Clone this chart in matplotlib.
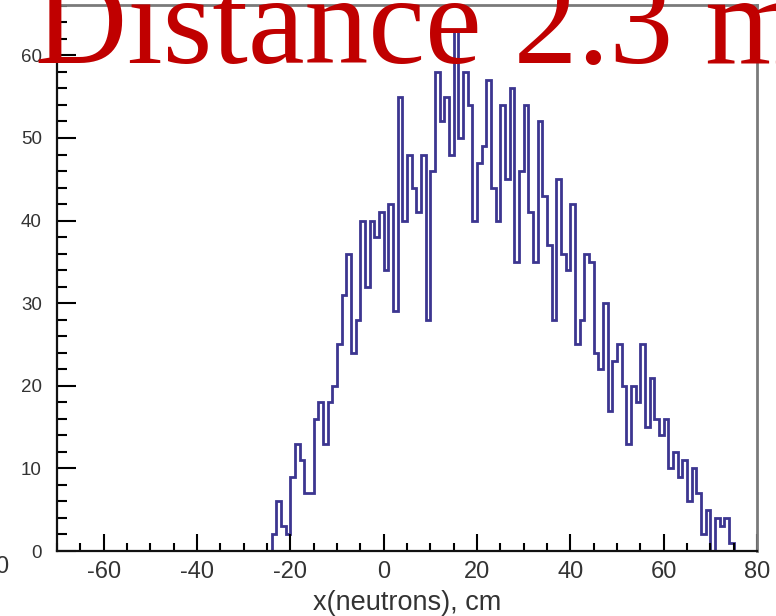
import numpy as np
import matplotlib
matplotlib.use("Agg")
import matplotlib.pyplot as plt
from matplotlib.ticker import MultipleLocator

plt.rcParams['axes.unicode_minus'] = False  # ROOT style plain hyphen

#---data: counts per 1 cm bin, first bin starts at -25 cm---#
first_edge = -25
counts = [0, 2, 6, 3, 2, 9, 13, 11, 7, 7,          # -25 .. -16
          16, 18, 13, 18, 20, 25, 31, 36, 24, 28,  # -15 .. -6
          40, 32, 40, 38, 41, 34, 42, 29, 55, 40,  # -5 .. 4
          48, 44, 41, 48, 28, 46, 58, 52, 55, 48,  # 5 .. 14
          63, 50, 58, 54, 40, 47, 49, 57, 44, 40,  # 15 .. 24
          54, 45, 56, 35, 46, 54, 41, 35, 52, 43,  # 25 .. 34
          37, 28, 45, 36, 34, 42, 25, 28, 36, 35,  # 35 .. 44
          24, 22, 30, 17, 23, 25, 20, 13, 20, 18,  # 45 .. 54
          25, 15, 21, 16, 14, 16, 10, 12, 9, 11,   # 55 .. 64
          6, 10, 7, 2, 5, 0, 4, 3, 4, 1]           # 65 .. 74
edges = np.arange(first_edge, first_edge + len(counts) + 1)

title_text = "Distance 2.3 m"
x_title = "x(neutrons), cm"
x_range = (-70, 80)
y_range = (0, 66.1)

#---figure---#
fig = plt.figure(figsize=(7.76, 6.16), dpi=100)
ax = fig.add_axes([57 / 776, 65 / 616, 700 / 776, 546 / 616])

ax.stairs(counts, edges, color="#3c3690", linewidth=2.0, baseline=0)

ax.set_xlim(*x_range)
ax.set_ylim(*y_range)

ax.xaxis.set_major_locator(MultipleLocator(20))
ax.xaxis.set_minor_locator(MultipleLocator(5))
ax.yaxis.set_major_locator(MultipleLocator(10))
ax.yaxis.set_minor_locator(MultipleLocator(2))

ax.tick_params(axis="x", which="major", direction="in", length=12, width=1.5,
               labelsize=17, labelcolor="#333333", pad=7, top=False)
ax.tick_params(axis="x", which="minor", direction="in", length=6, width=1.5, top=False)
ax.tick_params(axis="y", which="major", direction="in", length=14, width=1.5,
               labelsize=13.5, labelcolor="#333333", pad=11, right=False)
ax.tick_params(axis="y", which="minor", direction="in", length=7, width=1.5, right=False)

for lab in ax.get_xticklabels() + ax.get_yticklabels():
    lab.set_family("Liberation Sans")

ax.spines["left"].set_color("#111111")
ax.spines["bottom"].set_color("#111111")
ax.spines["left"].set_linewidth(1.6)
ax.spines["bottom"].set_linewidth(1.6)
ax.spines["top"].set_color("#7a7a7a")
ax.spines["right"].set_color("#7a7a7a")
ax.spines["top"].set_linewidth(2)
ax.spines["right"].set_linewidth(2)

ax.set_xlabel(x_title, fontsize=19.5, color="#333333", family="Liberation Sans")
ax.xaxis.set_label_coords(0.5, -(610 - 551) / 546)
ax.xaxis.label.set_va("baseline")

# cut-off label from the neighbouring panel at the far left
fig.text(0.002, 1 - 567 / 616, "0", fontsize=17, color="#333333", ha="center", va="center",
         family="Liberation Sans")

# big red title overlapping the top of the frame
fig.text(35 / 776, 1 - 63 / 616, title_text, fontsize=92, color="#c00000",
         family="Liberation Serif", ha="left", va="baseline")

fig.savefig("out.png", dpi=100, facecolor="white")
